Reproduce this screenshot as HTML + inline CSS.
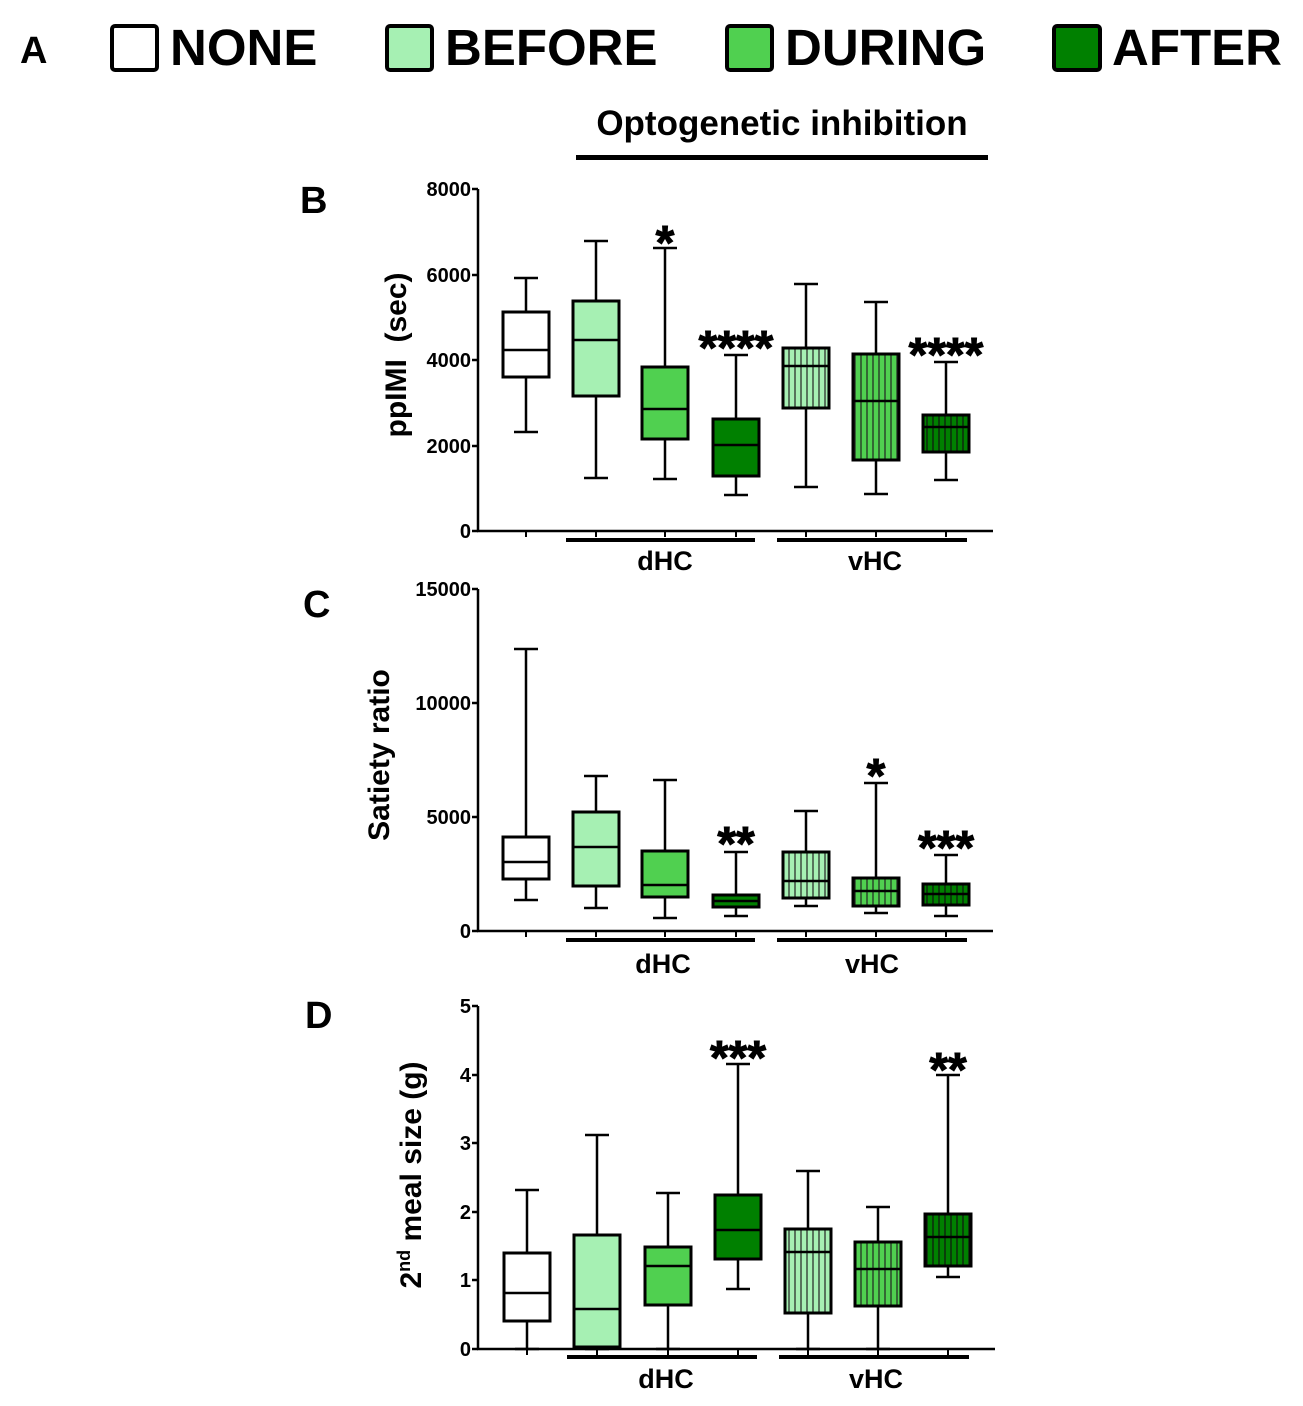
<!DOCTYPE html>
<html><head><meta charset="utf-8"><style>
html,body{margin:0;padding:0;background:#fff;}
svg{display:block;font-family:"Liberation Sans",Arial,sans-serif;font-weight:bold;}
</style></head><body>
<svg id="s" width="1303" height="1406" viewBox="0 0 1303 1406" xmlns="http://www.w3.org/2000/svg">
<defs>
<pattern id="h1" width="6" height="10" patternUnits="userSpaceOnUse"><rect width="6" height="10" fill="#a6f0b3"/><line x1="3" y1="0" x2="3" y2="10" stroke="#222" stroke-width="1.2"/></pattern>
<pattern id="h2" width="6" height="10" patternUnits="userSpaceOnUse"><rect width="6" height="10" fill="#50d050"/><line x1="3" y1="0" x2="3" y2="10" stroke="#222" stroke-width="1.2"/></pattern>
<pattern id="h3" width="6" height="10" patternUnits="userSpaceOnUse"><rect width="6" height="10" fill="#008000"/><line x1="3" y1="0" x2="3" y2="10" stroke="#111" stroke-width="1.2"/></pattern>
</defs>
<!-- Legend -->
<text x="20" y="63" font-size="38">A</text>
<rect x="112" y="26" width="45" height="44" rx="3" fill="#fff" stroke="#000" stroke-width="4"/>
<text x="170" y="65" font-size="51">NONE</text>
<rect x="387" y="26" width="45" height="44" rx="3" fill="#a6f0b3" stroke="#000" stroke-width="4"/>
<text x="445" y="65" font-size="51">BEFORE</text>
<rect x="727" y="26" width="45" height="44" rx="3" fill="#50d050" stroke="#000" stroke-width="4"/>
<text x="785" y="65" font-size="51">DURING</text>
<rect x="1054" y="26" width="46" height="44" rx="3" fill="#008000" stroke="#000" stroke-width="4"/>
<text x="1112" y="65" font-size="51">AFTER</text>
<text x="782" y="135" font-size="35" text-anchor="middle">Optogenetic inhibition</text>
<rect x="576" y="155" width="412" height="5" fill="#000"/>
<!-- Panel letters -->
<text x="300" y="213" font-size="38">B</text>
<text x="303" y="617" font-size="38">C</text>
<text x="305" y="1028" font-size="38">D</text>
<!-- Y labels -->
<text transform="translate(406,355) rotate(-90)" font-size="30" text-anchor="middle" xml:space="preserve">ppIMI  (sec)</text>
<text transform="translate(389,755) rotate(-90)" font-size="30" text-anchor="middle">Satiety ratio</text>
<text transform="translate(421,1175) rotate(-90)" font-size="30" text-anchor="middle">2<tspan font-size="18" dy="-11">nd</tspan><tspan dy="11"> meal size (g)</tspan></text>
<!-- Tick labels -->
<g font-size="20" text-anchor="end">
<text x="471" y="196">8000</text><text x="471" y="282">6000</text><text x="471" y="367">4000</text><text x="471" y="453">2000</text><text x="471" y="538">0</text>
<text x="471" y="596">15000</text><text x="471" y="710">10000</text><text x="471" y="824">5000</text><text x="471" y="938">0</text>
<text x="471" y="1013">5</text><text x="471" y="1082">4</text><text x="471" y="1150">3</text><text x="471" y="1219">2</text><text x="471" y="1287">1</text><text x="471" y="1356">0</text>
</g>
<g font-size="27" text-anchor="middle">
<text x="665" y="570">dHC</text><text x="875" y="570">vHC</text>
<text x="663" y="973">dHC</text><text x="872" y="973">vHC</text>
<text x="666" y="1388">dHC</text><text x="876" y="1388">vHC</text>
</g>
<g font-size="48" text-anchor="middle" stroke="#000" stroke-width="1">
<text x="665" y="259">*</text><text x="736" y="364">****</text><text x="946" y="371">****</text>
<text x="736" y="860">**</text><text x="876" y="792">*</text><text x="946" y="864">***</text>
<text x="738" y="1074">***</text><text x="948" y="1086">**</text>
</g>
<g id="plots"></g>
</svg>
<script>
var g=document.getElementById('plots'),NS='http://www.w3.org/2000/svg';
function el(t,a){var e=document.createElementNS(NS,t);for(var k in a)e.setAttribute(k,a[k]);g.appendChild(e);return e;}
function ln(x1,y1,x2,y2,w){el('line',{x1:x1,y1:y1,x2:x2,y2:y2,stroke:'#000','stroke-width':w||2.5});}
var fills=['#fff','#a6f0b3','#50d050','#008000','url(#h1)','url(#h2)','url(#h3)'];
function panel(top,bot,ticks,axEnd,cx,data,gy){
 ln(478,top,478,bot+1);ln(477,bot,axEnd,bot);
 ticks.forEach(function(t){ln(472,t,478,t);});
 cx.forEach(function(x){ln(x,bot,x,bot+6,2);});
 el('rect',{x:cx[1]-30,y:gy-2,width:cx[3]+19-(cx[1]-30),height:4,fill:'#000'});
 el('rect',{x:cx[4]-29,y:gy-2,width:cx[6]+21-(cx[4]-29),height:4,fill:'#000'});
 data.forEach(function(d,i){var x=cx[i];
  ln(x,d[0],x,d[1]);ln(x-12,d[0],x+12,d[0]);ln(x-12,d[1],x+12,d[1]);
  el('rect',{x:x-23,y:d[2],width:46,height:d[3]-d[2],fill:fills[i],stroke:'#000','stroke-width':3});
  ln(x-23,d[4],x+23,d[4]);
 });
}
panel(189,531,[189,275,360,446,531],993,[526,596,665,736,806,876,946],
 [[278,432,312,377,350],[241,478,301,396,340],[248,479,367,439,409],[355,495,419,476,445],[284,487,348,408,366],[302,494,354,460,401],[362,480,415,452,427]],540);
panel(589,931,[589,703,817,931],993,[526,596,665,736,806,876,946],
 [[649,900,837,879,862],[776,908,812,886,847],[780,918,851,897,885],[852,916,895,907,901],[811,906,852,898,881],[783,913,878,906,891],[855,916,884,905,894]],940);
panel(1006,1349,[1006,1075,1143,1212,1280,1349],995,[527,597,668,738,808,878,948],
 [[1190,1349,1253,1321,1293],[1135,1349,1235,1347,1309],[1193,1349,1247,1305,1266],[1064,1289,1195,1259,1230],[1171,1349,1229,1313,1252],[1207,1349,1242,1306,1269],[1075,1277,1214,1266,1237]],1357);
</script>
</body></html>
